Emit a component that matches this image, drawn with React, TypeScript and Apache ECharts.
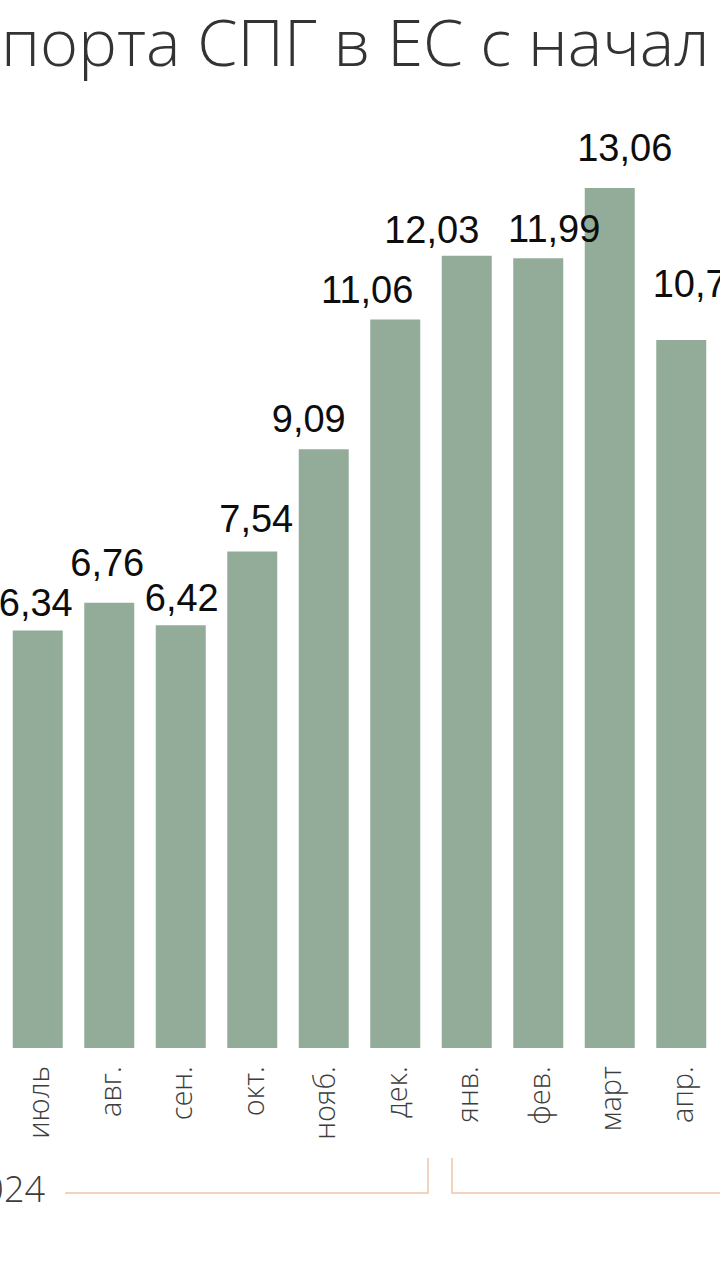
import { useEffect, useRef } from 'react';
import * as echarts from 'echarts';

// visible part of the chart (the source picture is cropped on both sides)
const months = ['июль', 'авг.', 'сен.', 'окт.', 'нояб.', 'дек.', 'янв.', 'фев.', 'март', 'апр.'];
const volumes = [6.34, 6.76, 6.42, 7.54, 9.09, 11.06, 12.03, 11.99, 13.06, 10.75];
const yearLabel = '2024';
const titleText = 'порта СПГ в ЕС с начал';

// hand placed value labels in the original: [dx, dy] nudges in px
const labelNudge: [number, number][] = [
  [-2, 8], [-2, 21], [1, 8], [4, 13], [-15, 11],
  [-28, 11], [-35, 7], [16, 10], [15, 21], [19, 37],
];

const BAR_COLOR = '#93ac9a';
const BRACKET_COLOR = '#f2d3bd';

export default function App() {
  const chartRef = useRef<HTMLDivElement>(null);

  useEffect(() => {
    if (!chartRef.current) return;
    const chart = echarts.init(chartRef.current, null, { renderer: 'svg' });

    chart.setOption({
      animation: false,
      backgroundColor: '#ffffff',
      title: {
        text: titleText,
        left: -4,
        top: 3,
        textStyle: {
          fontFamily: 'Open Sans',
          fontWeight: 300,
          fontSize: 65,
          color: '#333333',
        },
      },
      grid: { left: 2, right: 3, top: 126, bottom: 232, containLabel: false },
      xAxis: {
        type: 'category',
        data: months,
        axisLine: { show: false },
        axisTick: { show: false },
        axisLabel: {
          interval: 0,
          rotate: 90,
          margin: 18,
          fontFamily: 'Open Sans',
          fontWeight: 300,
          fontSize: 29,
          color: '#3d3d3d',
        },
      },
      yAxis: {
        type: 'value',
        min: 0,
        max: 14,
        show: false,
        splitLine: { show: false },
      },
      series: [
        {
          type: 'bar',
          barWidth: 50,
          itemStyle: { color: BAR_COLOR },
          label: {
            show: true,
            position: 'top',
            distance: 0,
            fontFamily: 'Liberation Sans',
            fontSize: 38,
            color: '#0d0d0d',
            formatter: (p: any) => Number(p.value).toFixed(2).replace('.', ','),
          },
          data: volumes.map((v, i) => ({
            value: v,
            label: { offset: [labelNudge[i][0], -labelNudge[i][1]] },
          })),
        },
      ],
    });

    // year brackets under the month labels, placed from the category positions
    const xDec = chart.convertToPixel({ xAxisIndex: 0 }, 5) as number;
    const xJan = chart.convertToPixel({ xAxisIndex: 0 }, 6) as number;
    const split = (xDec + xJan) / 2;
    const lineY = 1193;
    const tickTop = 1158;
    const lineStyle = { stroke: BRACKET_COLOR, lineWidth: 2 };

    chart.setOption({
      graphic: [
        {
          type: 'text',
          right: 720 - 45,
          top: 1170,
          style: {
            text: yearLabel,
            fontFamily: 'Open Sans',
            fontWeight: 300,
            fontSize: 36,
            fill: '#3d3d3d',
          },
        },
        {
          type: 'polyline',
          shape: { points: [[65, lineY], [split - 3, lineY], [split - 3, tickTop]] },
          style: { ...lineStyle, fill: 'none' },
        },
        {
          type: 'polyline',
          shape: { points: [[split + 21, tickTop], [split + 21, lineY], [760, lineY]] },
          style: { ...lineStyle, fill: 'none' },
        },
      ],
    });

    return () => {
      chart.dispose();
    };
  }, []);

  return (
    <div
      style={{
        position: 'absolute',
        left: 0,
        top: 0,
        width: 720,
        height: 1280,
        overflow: 'hidden',
        background: '#ffffff',
      }}
    >
      <div ref={chartRef} style={{ width: 720, height: 1280 }} />
    </div>
  );
}
